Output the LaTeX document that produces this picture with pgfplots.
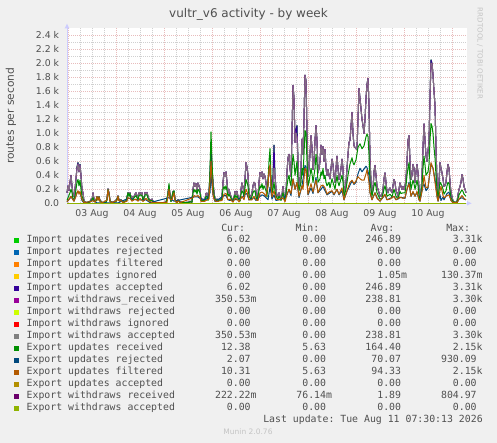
\documentclass[border=0pt]{standalone}
\usepackage{fontspec}
\setmainfont{DejaVu Sans}
\setmonofont{DejaVu Sans Mono}
\usepackage{pgfplots}
\pgfplotsset{compat=1.18}
\usepackage{pgfplotstable}
\usetikzlibrary{arrows.meta}

\definecolor{canvas}{HTML}{F0F0F0}
\definecolor{txt}{HTML}{505050}
\definecolor{gmaj}{HTML}{E8BCBC}
\definecolor{gmin}{HTML}{D0D0D0}
\definecolor{axl}{HTML}{CCCCFF}
\definecolor{faint}{HTML}{C4C4C4}
\definecolor{c01}{HTML}{00CC00}
\definecolor{c02}{HTML}{0066B3}
\definecolor{c03}{HTML}{FF8000}
\definecolor{c04}{HTML}{FFCC00}
\definecolor{c05}{HTML}{330099}
\definecolor{c06}{HTML}{990099}
\definecolor{c07}{HTML}{CCFF00}
\definecolor{c08}{HTML}{FF0000}
\definecolor{c09}{HTML}{808080}
\definecolor{c10}{HTML}{008F00}
\definecolor{c11}{HTML}{00487D}
\definecolor{c12}{HTML}{B35A00}
\definecolor{c13}{HTML}{B38F00}
\definecolor{c14}{HTML}{6B006B}
\definecolor{c15}{HTML}{8FB300}

\newcommand{\sx}{\phantom{0}}
\newcommand{\LE}[5]{\rlap{#1}\makebox[229.9pt][r]{#2}\makebox[75.4pt][r]{#3}\makebox[75pt][r]{#4}\makebox[75.6pt][r]{#5}}

% p = half-hour slot; hours since 03 Aug 00:00 = (p-68)/2
\pgfplotstableread{
p upd wdr
67 150 150
68 250 250
69 180 180
70 300 300
71 400 400
72 250 250
73 120 120
74 100 100
75 200 200
76 350 350
77 520 500
78 580 560
79 450 450
80 555 540
81 400 400
82 200 200
83 150 150
84 30 30
86 10 10
88 10 10
90 20 20
91 60 60
92 40 40
93 150 150
94 60 60
95 30 30
96 40 40
97 95 95
98 60 60
99 95 95
100 40 40
101 30 30
102 15 15
104 10 10
106 20 20
107 60 60
108 205 205
109 150 150
110 40 40
111 20 20
113 15 15
115 30 30
117 60 60
118 105 105
119 50 50
120 30 30
121 50 50
122 30 30
124 20 20
126 40 40
127 80 80
128 150 150
129 120 120
130 150 150
131 80 80
132 100 100
133 60 60
134 95 95
135 130 130
136 150 150
137 110 110
138 60 60
139 150 150
140 155 155
141 120 120
142 150 150
143 60 60
144 40 40
145 155 155
146 130 130
147 155 155
148 100 100
149 60 60
150 50 50
151 40 40
152 60 60
153 30 30
155 15 15
157 10 10
160 10 10
163 10 10
165 15 15
167 40 40
168 150 150
169 250 250
170 120 120
171 30 30
172 80 80
173 170 170
174 170 170
175 60 60
176 20 20
177 15 15
178 50 50
179 40 40
180 20 20
182 15 15
185 10 10
188 15 15
190 30 30
191 15 15
192 20 20
193 200 200
194 290 290
195 240 240
196 280 280
197 180 180
198 290 290
199 250 250
200 200 200
201 50 50
202 30 30
203 50 50
204 30 30
205 60 60
206 140 140
207 145 145
208 60 60
209 150 150
210 450 350
211 800 400
212 500 450
213 300 300
214 150 150
215 60 60
216 40 40
217 60 60
218 30 30
219 50 50
220 40 40
221 60 60
222 100 100
223 300 300
224 440 440
225 380 380
226 450 450
227 300 300
228 145 145
229 200 200
230 140 140
231 100 100
232 60 60
233 40 40
234 80 80
235 170 170
236 120 120
237 170 170
238 100 100
239 50 50
240 40 40
241 200 200
242 290 290
243 230 230
244 150 150
245 350 350
246 580 580
247 520 520
248 400 400
249 150 150
250 100 100
251 80 80
252 150 150
253 250 250
254 300 300
255 280 280
256 150 150
257 80 80
258 100 100
259 300 300
260 440 440
261 380 380
262 450 450
263 350 350
264 420 420
265 380 380
266 300 300
267 150 150
268 300 300
269 500 500
270 500 500
271 250 250
272 150 150
273 400 300
274 830 500
275 400 400
276 200 200
277 100 100
278 95 95
279 150 150
280 100 100
281 60 60
282 120 120
283 240 240
284 100 100
285 70 70
286 150 150
287 450 450
288 650 650
289 700 700
290 500 500
291 385 385
292 1000 1000
293 1685 1685
294 1500 1500
295 870 870
296 1060 1000
297 1110 950
298 600 600
299 290 290
300 250 250
301 500 500
302 915 915
303 700 700
304 1200 1200
305 1830 1830
306 1750 1750
307 1000 1000
308 385 385
309 500 500
310 700 700
311 965 965
312 800 800
313 480 480
314 600 600
315 900 900
316 1110 1110
317 900 900
318 435 435
319 500 500
320 600 600
321 830 830
322 700 700
323 810 810
324 600 600
325 770 770
326 500 500
327 400 400
328 480 480
329 400 400
330 350 350
331 500 500
332 630 630
333 550 550
334 400 400
335 300 300
336 500 500
337 675 675
338 500 500
339 340 340
340 400 400
341 500 500
342 630 630
343 500 500
344 145 145
345 200 200
346 300 300
347 500 500
348 700 700
349 870 870
350 900 900
351 1100 1100
352 1300 1300
353 1000 1000
354 820 820
355 800 800
356 780 780
357 770 770
358 1200 1200
359 1640 1640
360 1500 1500
361 1350 1350
362 1200 1200
363 1110 1110
364 1000 1000
365 1200 1200
366 1500 1500
367 1700 1700
368 1785 1785
369 1400 1400
370 630 630
371 300 300
372 145 145
373 200 200
374 450 450
375 540 540
376 400 400
377 240 240
378 200 200
379 150 150
380 100 100
381 100 100
382 120 120
383 200 200
384 350 350
385 435 435
386 300 300
387 170 170
388 150 150
389 200 200
390 220 220
391 180 180
392 150 150
393 250 250
394 340 340
395 300 300
396 180 180
397 150 150
398 100 100
399 200 200
400 290 290
401 240 240
402 200 200
403 240 240
404 200 200
405 240 240
406 350 350
407 600 600
408 900 900
409 965 965
410 600 600
411 340 340
412 400 400
413 555 555
414 500 500
415 300 300
416 450 450
417 555 555
418 440 440
419 200 200
420 95 95
421 150 150
422 400 400
423 800 800
424 1135 1135
425 900 900
426 675 675
427 600 600
428 750 750
429 870 870
430 1500 1500
431 2050 2000
432 2000 2000
433 1835 1835
434 1600 1600
435 1400 1400
436 800 800
437 300 300
438 95 95
439 300 300
440 580 580
441 500 500
442 435 435
443 350 350
444 240 240
445 250 250
446 300 300
447 450 450
448 555 555
449 500 500
450 300 300
451 150 150
452 95 95
453 30 30
455 10 10
457 20 20
458 120 120
459 200 200
460 240 240
461 300 300
462 410 410
463 350 350
464 240 240
465 200 200
466 150 150
}\imp

\pgfplotstableread{
p v
67 40
68 80
70 150
71 200
72 150
73 60
74 60
75 100
76 200
77 300
78 340
79 250
80 330
81 200
82 100
83 60
84 15
88 8
91 30
93 80
94 30
96 30
97 90
98 50
99 90
100 30
102 10
106 10
107 50
108 195
109 130
110 30
112 10
116 20
118 100
119 40
121 45
123 15
126 30
128 150
129 100
130 140
131 60
133 50
134 80
136 110
138 50
139 110
140 120
142 110
143 40
145 120
147 120
148 70
150 35
152 40
154 10
166 10
168 140
169 280
170 100
171 25
173 160
174 180
175 50
177 10
178 45
180 15
189 10
190 25
192 15
193 150
194 200
195 160
196 190
197 130
198 200
199 180
200 150
201 40
203 40
205 45
206 100
207 100
208 40
209 120
210 450
211 1020
212 600
213 250
214 120
215 50
217 50
219 40
221 50
222 80
223 200
224 240
225 200
226 250
227 180
228 100
229 130
230 100
231 70
233 30
235 120
236 80
237 110
238 70
240 30
241 130
242 180
243 150
244 100
245 220
246 340
247 300
248 240
249 100
251 50
252 100
253 150
254 180
255 170
256 90
257 50
259 180
260 250
261 220
262 280
263 200
264 250
265 220
266 180
267 90
268 300
269 600
270 780
271 400
272 150
273 200
274 300
275 180
276 100
278 60
279 100
281 40
283 150
285 40
287 250
288 350
289 400
290 300
291 250
292 500
293 700
294 600
295 400
296 500
297 600
298 300
299 180
301 300
302 500
303 400
304 700
305 1040
306 1000
307 600
308 250
309 300
310 400
311 500
312 420
313 300
315 500
316 700
317 550
318 300
320 350
321 450
322 400
323 500
324 350
325 400
326 300
327 250
329 300
330 220
332 350
334 250
335 200
337 400
338 300
339 250
342 400
343 300
344 100
346 200
348 400
350 560
352 650
353 580
354 550
356 620
358 800
360 850
362 780
364 820
366 950
367 990
368 950
369 700
370 300
372 100
374 250
375 300
376 230
377 150
380 60
382 70
384 200
385 250
386 180
387 100
390 130
392 90
394 200
396 100
398 60
400 170
401 140
403 150
405 150
406 250
407 400
408 500
409 580
410 350
411 200
413 330
414 280
415 200
417 330
418 250
419 100
420 60
422 250
423 500
424 675
425 550
426 400
428 450
429 550
430 900
431 1140
432 1100
433 1000
434 800
435 650
436 400
437 200
438 60
439 180
440 300
441 280
442 250
443 200
444 130
446 180
447 250
448 300
449 280
450 170
451 80
452 50
453 20
457 15
459 120
461 170
462 190
463 170
464 130
466 100
}\expRecv

\pgfplotstableread{
p v
67 20
70 70
71 100
74 30
77 150
78 160
80 160
82 40
84 5
93 40
97 5
99 5
108 5
118 5
128 70
130 70
136 50
140 50
146 50
150 10
169 80
174 30
194 90
198 90
200 70
206 50
210 150
211 420
212 250
213 120
215 25
224 110
226 110
228 50
230 40
235 50
242 80
246 140
247 130
249 50
254 80
256 40
260 100
262 120
264 110
266 80
268 50
270 230
271 150
272 60
274 120
276 40
279 50
283 70
287 120
289 200
291 110
293 350
295 200
297 300
299 80
302 250
305 540
306 520
307 300
308 120
311 220
313 140
316 370
318 150
321 200
323 240
325 180
327 120
329 140
332 170
334 120
337 200
339 120
342 180
344 50
347 170
350 260
352 320
354 270
356 300
358 420
360 500
362 450
364 490
366 530
367 510
369 400
370 150
372 50
375 150
377 80
380 30
385 120
387 50
390 70
394 100
396 50
400 80
403 80
405 70
407 200
409 300
411 100
413 160
415 100
417 160
419 50
420 30
423 250
424 275
426 180
428 220
430 450
431 560
433 500
435 350
437 100
438 30
440 120
441 40
443 90
444 50
447 140
449 160
451 40
453 10
457 7
459 60
462 80
464 60
466 50
}\expRej

\pgfplotstableread{
p v
67 20
70 80
71 100
72 70
74 30
76 100
77 150
78 180
79 130
80 170
81 110
82 60
84 10
91 25
93 40
95 15
97 95
98 40
99 90
100 25
102 8
107 45
108 190
109 120
110 25
112 8
117 40
118 100
119 35
121 40
123 10
127 30
128 80
130 70
132 30
134 50
136 60
138 30
140 70
143 25
146 70
148 40
150 25
153 8
167 10
169 200
170 60
172 50
174 150
175 40
177 8
178 35
180 8
193 80
194 110
196 100
198 110
200 80
201 25
205 30
207 50
209 60
210 300
211 600
212 350
213 130
214 60
216 25
222 40
224 130
226 140
228 50
230 60
233 15
235 70
237 60
239 20
242 100
244 50
246 200
247 170
249 50
252 50
254 100
256 50
258 40
260 150
262 160
264 140
266 100
268 250
269 480
270 550
271 250
272 90
274 180
276 60
279 50
283 80
285 20
287 130
289 200
291 140
293 350
295 200
297 300
299 100
302 250
303 200
305 500
306 480
307 300
308 130
311 280
313 160
316 330
318 150
321 250
323 260
325 220
327 130
329 160
332 180
334 130
337 200
339 130
342 220
344 50
347 180
350 300
352 330
354 280
356 320
358 380
360 350
362 330
364 330
366 420
367 480
369 300
370 150
372 50
375 150
377 70
380 30
385 130
387 50
390 60
394 100
396 50
400 90
403 70
405 80
407 200
409 280
411 100
413 170
415 100
417 170
419 50
420 30
423 250
424 400
426 220
428 230
430 450
431 580
433 500
435 300
437 100
438 30
440 180
441 240
443 110
444 80
447 110
449 120
451 40
453 10
457 8
459 60
462 110
464 70
466 50
}\expFilt

\begin{document}
\begin{tikzpicture}
\path[fill=canvas, use as bounding box] (0pt,0pt) rectangle (497pt,443pt);
\begin{axis}[
  at={(67pt,239.7pt)}, anchor=south west,
  scale only axis, width=400pt, height=175pt,
  xmin=-0.5, xmax=199.5, ymin=0, ymax=2500,
  axis background/.style={fill=white},
  axis x line*=bottom, axis y line*=left,
  axis line style={draw=axl, fill=axl, line width=1pt, -{Latex[length=5pt,width=5pt]}, shorten >=-5pt},
  xtick={0,24,...,192}, xticklabels={},
  minor x tick num=3,
  extra x ticks={12,36,...,180},
  extra x tick labels={03 Aug,04 Aug,05 Aug,06 Aug,07 Aug,08 Aug,09 Aug,10 Aug},
  extra x tick style={grid=none, major tick length=0pt},
  ytick={0,200,...,2400},
  yticklabels={0.0,0.2 k,0.4 k,0.6 k,0.8 k,1.0 k,1.2 k,1.4 k,1.6 k,1.8 k,2.0 k,2.2 k,2.4 k},
  minor y tick num=1,
  grid=both,
  major grid style={draw=gmaj, line width=1pt, dash pattern=on 1pt off 1pt},
  minor grid style={draw=gmin, line width=1pt, dash pattern=on 1pt off 1pt},
  major tick length=0pt, minor tick length=0pt,
  tick label style={font=\fontsize{9.33}{11}\selectfont, text=txt, inner sep=0pt},
  xticklabel style={anchor=base, yshift=-12.8pt},
  yticklabel style={anchor=base east, xshift=-7.7pt, yshift=-3.4pt},
  ylabel={routes per second},
  ylabel style={at={(axis description cs:-0.14,0.5)}, anchor=center, font=\fontsize{10.67}{12}\selectfont, text=txt},
  title={vultr\_v6 activity - by week},
  title style={at={(axis description cs:0.4537,1.0274)}, anchor=base, font=\fontsize{12}{14}\selectfont, text=txt, inner sep=0pt},
  clip=false,
  every axis plot/.append style={line width=1pt, line join=round},
  legend style={at={(axis description cs:-0.1325,-0.1754)}, anchor=north west, draw=none, fill=none, inner sep=0pt, outer sep=0pt, row sep=0pt, column sep=0pt,
    nodes={inner sep=0pt, outer sep=0pt, text height=9pt, text depth=3pt, font=\ttfamily\fontsize{9.85}{12}\selectfont, text=txt}},
  legend cell align=left,
  legend image code/.code={\fill[#1, opacity=1, draw=none] (0pt,-2.8pt) rectangle (5pt,2.2pt); \path[draw=none, fill=none] (0pt,0pt) -- (12.7pt,0pt);},
]
\addplot[color=c01] table[x expr=(\thisrow{p}-68)/2, y=upd] {\imp};
\addlegendentry{\LE{Import updates received}{6.02\sx}{0.00\sx}{246.89\sx}{3.31k}}
\addplot[color=c02] coordinates {(-0.5,0) (199,0)};
\addlegendentry{\LE{Import updates rejected}{0.00\sx}{0.00\sx}{0.00\sx}{0.00\sx}}
\addplot[color=c03] coordinates {(-0.5,0) (199,0)};
\addlegendentry{\LE{Import updates filtered}{0.00\sx}{0.00\sx}{0.00\sx}{0.00\sx}}
\addplot[color=c04] coordinates {(-0.5,0) (199,0)};
\addlegendentry{\LE{Import updates ignored}{0.00\sx}{0.00\sx}{1.05m}{130.37m}}
\addplot[color=c05] table[x expr=(\thisrow{p}-68)/2, y=upd] {\imp};
\addlegendentry{\LE{Import updates accepted}{6.02\sx}{0.00\sx}{246.89\sx}{3.31k}}
\addplot[color=c06] table[x expr=(\thisrow{p}-68)/2, y=wdr] {\imp};
\addlegendentry{\LE{Import withdraws\_received}{350.53m}{0.00\sx}{238.81\sx}{3.30k}}
\addplot[color=c07] coordinates {(-0.5,0) (199,0)};
\addlegendentry{\LE{Import withdraws rejected}{0.00\sx}{0.00\sx}{0.00\sx}{0.00\sx}}
\addplot[color=c08] coordinates {(-0.5,0) (199,0)};
\addlegendentry{\LE{Import withdraws ignored}{0.00\sx}{0.00\sx}{0.00\sx}{0.00\sx}}
\addplot[color=c09, draw opacity=0.85] table[x expr=(\thisrow{p}-68)/2, y=wdr] {\imp};
\addlegendentry{\LE{Import withdraws accepted}{350.53m}{0.00\sx}{238.81\sx}{3.30k}}
\addplot[color=c10] table[x expr=(\thisrow{p}-68)/2, y=v] {\expRecv};
\addlegendentry{\LE{Export updates received}{12.38\sx}{5.63\sx}{164.40\sx}{2.15k}}
\addplot[color=c11] table[x expr=(\thisrow{p}-68)/2, y=v] {\expRej};
\addlegendentry{\LE{Export updates rejected}{2.07\sx}{0.00\sx}{70.07\sx}{930.09\sx}}
\addplot[color=c12] table[x expr=(\thisrow{p}-68)/2, y=v] {\expFilt};
\addlegendentry{\LE{Export updates filtered}{10.31\sx}{5.63\sx}{94.33\sx}{2.15k}}
\addplot[color=c13] coordinates {(-0.5,0) (199,0)};
\addlegendentry{\LE{Export updates accepted}{0.00\sx}{0.00\sx}{0.00\sx}{0.00\sx}}
\addplot[color=c14] coordinates {(-0.5,0) (199,0)};
\addlegendentry{\LE{Export withdraws received}{222.22m}{76.14m}{1.89\sx}{804.97\sx}}
\addplot[color=c15] coordinates {(-0.5,0) (199,0)};
\addlegendentry{\LE{Export withdraws accepted}{0.00\sx}{0.00\sx}{0.00\sx}{0.00\sx}}
\end{axis}
\begin{scope}[every node/.style={inner sep=0pt, outer sep=0pt, text=txt, font=\ttfamily\fontsize{9.85}{12}\selectfont}]
\node[anchor=base east] at (245pt,211.3pt) {Cur:};
\node[anchor=base east] at (319.3pt,211.3pt) {Min:};
\node[anchor=base east] at (394.3pt,211.3pt) {Avg:};
\node[anchor=base east] at (470pt,211.3pt) {Max:};
\node[anchor=base east] at (482.7pt,20pt) {Last update: Tue Aug 11 07:30:13 2026};
\end{scope}
\node[anchor=base, inner sep=0pt, text=faint, font=\fontsize{7.5}{9}\selectfont] at (248pt,8pt) {Munin 2.0.76};
\node[rotate=-90, inner sep=0pt, text=faint, font=\fontsize{7.1}{8}\selectfont] at (480pt,389.5pt) {RRDTOOL / TOBI OETIKER};
\end{tikzpicture}
\end{document}
